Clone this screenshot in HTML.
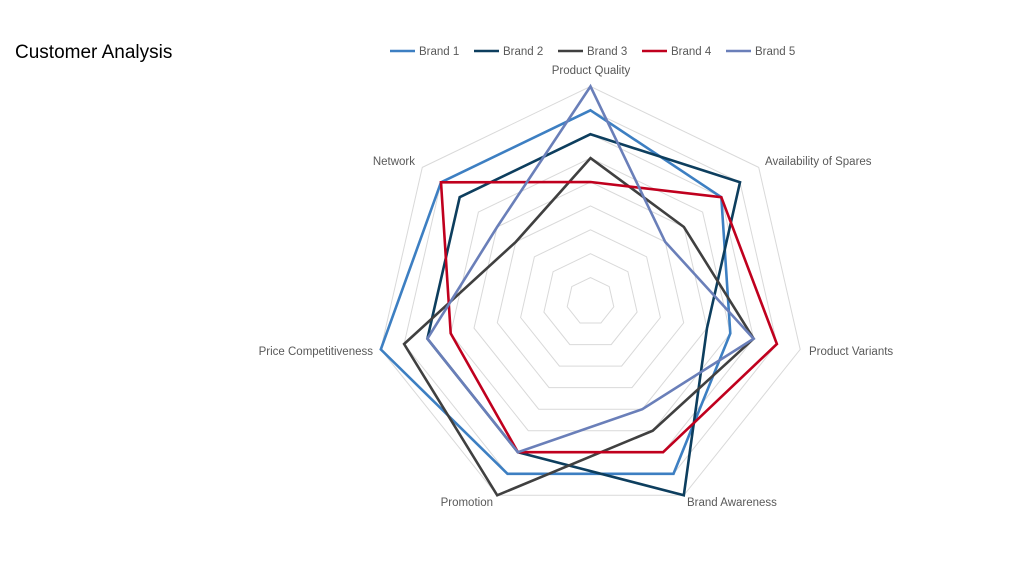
<!DOCTYPE html>
<html><head><meta charset="utf-8"><style>
html,body{margin:0;padding:0;background:#fff;}
svg text{font-family:"Liberation Sans",Arial,sans-serif;}
</style></head><body>
<svg id="c" width="1024" height="576" viewBox="0 0 1024 576" xmlns="http://www.w3.org/2000/svg">
<rect width="1024" height="576" fill="#fff"/>
<text x="15" y="58" font-size="19" fill="#000">Customer Analysis</text>
<g font-size="11.5" fill="#595959">
<line x1="390" y1="51" x2="415" y2="51" stroke="#3d7fc2" stroke-width="2.5"/><text x="419" y="55">Brand 1</text>
<line x1="474" y1="51" x2="499" y2="51" stroke="#0d3e5e" stroke-width="2.5"/><text x="503" y="55">Brand 2</text>
<line x1="558" y1="51" x2="583" y2="51" stroke="#404040" stroke-width="2.5"/><text x="587" y="55">Brand 3</text>
<line x1="642" y1="51" x2="667" y2="51" stroke="#c0001e" stroke-width="2.5"/><text x="671" y="55">Brand 4</text>
<line x1="726" y1="51" x2="751" y2="51" stroke="#6a7fb9" stroke-width="2.5"/><text x="755" y="55">Brand 5</text>
<text x="591" y="74" text-anchor="middle">Product Quality</text>
<text x="765" y="165">Availability of Spares</text>
<text x="809" y="355">Product Variants</text>
<text x="687" y="506">Brand Awareness</text>
<text x="493" y="506" text-anchor="end">Promotion</text>
<text x="373" y="355" text-anchor="end">Price Competitiveness</text>
<text x="415" y="165" text-anchor="end">Network</text>
</g>
<g id="grid" fill="none" stroke="#d9d9d9" stroke-width="1"></g>
<g id="series" fill="none" stroke-width="2.6" stroke-linejoin="miter"></g>
</svg>
<script>
var cx=590.5,cy=301.5,u=23.9,ns="http://www.w3.org/2000/svg";
function pt(k,v){var a=(-90+k*360/7)*Math.PI/180;return (cx+Math.cos(a)*v*u).toFixed(1)+","+(cy+Math.sin(a)*v*u).toFixed(1);}
var g=document.getElementById("grid");
for(var l=1;l<=9;l++){var p=document.createElementNS(ns,"polygon");var s=[];for(var k=0;k<7;k++)s.push(pt(k,l));p.setAttribute("points",s.join(" "));g.appendChild(p);}
var data=[["#3d7fc2",[8,7,6,8,8,9,8]],["#0d3e5e",[7,8,5,9,7,7,7]],["#404040",[6,5,7,6,9,8,4]],["#c0001e",[5,7,8,7,7,6,8]],["#6a7fb9",[9,4,7,5,7,7,5]]];
var sg=document.getElementById("series");
data.forEach(function(d){var p=document.createElementNS(ns,"polygon");var s=[];for(var k=0;k<7;k++)s.push(pt(k,d[1][k]));p.setAttribute("points",s.join(" "));p.setAttribute("stroke",d[0]);sg.appendChild(p);});
</script>
</body></html>
